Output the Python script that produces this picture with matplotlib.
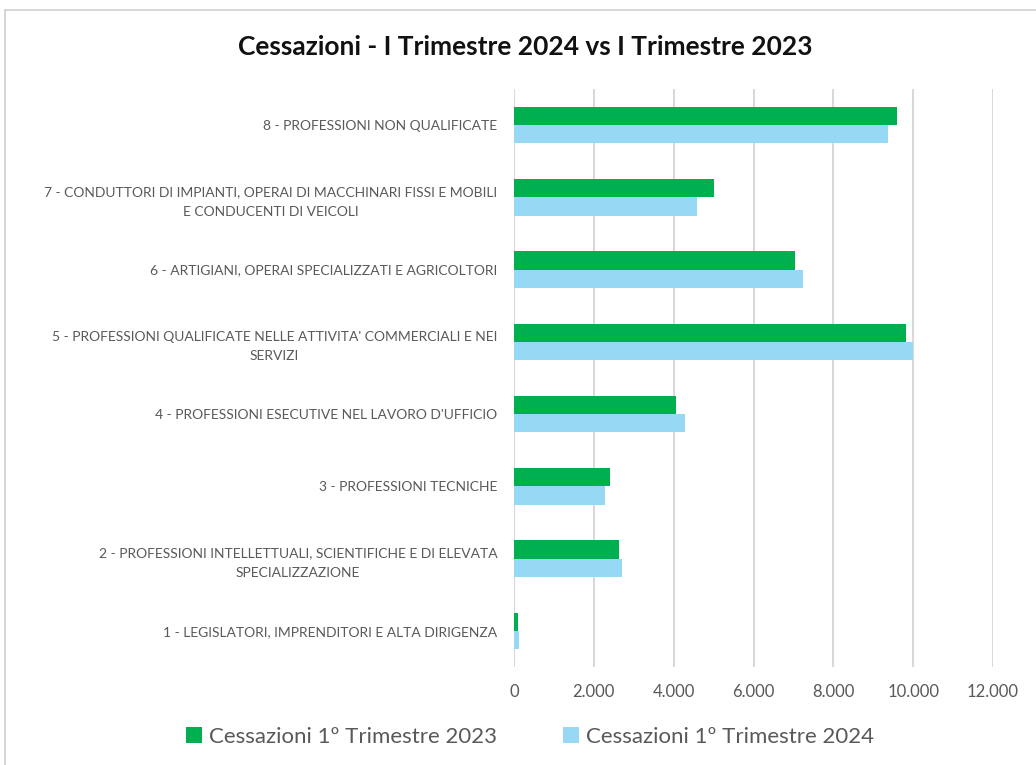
import matplotlib.pyplot as plt
import numpy as np
from matplotlib.patches import Rectangle
from matplotlib.ticker import FuncFormatter

categories = [
    "1 - LEGISLATORI, IMPRENDITORI E ALTA DIRIGENZA",
    "2 - PROFESSIONI INTELLETTUALI, SCIENTIFICHE E DI ELEVATA\nSPECIALIZZAZIONE",
    "3 - PROFESSIONI TECNICHE",
    "4 - PROFESSIONI ESECUTIVE NEL LAVORO D'UFFICIO",
    "5 - PROFESSIONI QUALIFICATE NELLE ATTIVITA' COMMERCIALI E NEI\nSERVIZI",
    "6 - ARTIGIANI, OPERAI SPECIALIZZATI E AGRICOLTORI",
    "7 - CONDUTTORI DI IMPIANTI, OPERAI DI MACCHINARI FISSI E MOBILI\nE CONDUCENTI DI VEICOLI",
    "8 - PROFESSIONI NON QUALIFICATE",
]
cess_2023 = [92, 2625, 2400, 4050, 9825, 7030, 5010, 9590]
cess_2024 = [125, 2710, 2290, 4275, 9990, 7240, 4575, 9370]
series_names = ["Cessazioni 1º Trimestre 2023", "Cessazioni 1º Trimestre 2024"]
x_ticks = [0, 2000, 4000, 6000, 8000, 10000, 12000]

GREEN = "#00B050"
BLUE = "#97D9F4"
GRAY = "#595959"
font = ["Lato", "DejaVu Sans"]

fig = plt.figure(figsize=(10.36, 7.65), dpi=100)
fig.patches.append(Rectangle((5 / 1036, -0.1), 1.2, 1 - 10 / 765 + 0.1,
                             transform=fig.transFigure, fill=False,
                             edgecolor="#D0D0D0", linewidth=1.2))

ax = fig.add_axes([514 / 1036, 1 - 667 / 765, (993 - 514) / 1036, (667 - 89) / 765])

y = np.arange(len(categories))
h = 0.253
ax.barh(y + h / 2, cess_2023, height=h, color=GREEN, label=series_names[0], zorder=3)
ax.barh(y - h / 2, cess_2024, height=h, color=BLUE, label=series_names[1], zorder=3)

ax.set_xlim(0, 12000)
ax.set_ylim(-0.5, len(categories) - 0.5)
ax.set_xticks(x_ticks)
ax.xaxis.set_major_formatter(FuncFormatter(lambda v, p: f"{int(v):,}".replace(",", ".")))
ax.grid(axis="x", color="#D9D9D9", linewidth=1.5, zorder=0)
for s in ax.spines.values():
    s.set_visible(False)
ax.tick_params(length=0)
ax.tick_params(axis="x", pad=12, labelsize=12, labelcolor=GRAY)
ax.set_yticks(y)
ax.set_yticklabels(categories, fontsize=10, color=GRAY, multialignment="center",
                   linespacing=1.75)
ax.tick_params(axis="y", pad=12)
for lbl in ax.get_xticklabels() + ax.get_yticklabels():
    lbl.set_family(font)

fig.text(525 / 1036, 1 - 47 / 765, "Cessazioni - I Trimestre 2024 vs I Trimestre 2023",
         ha="center", va="center", fontsize=19, fontweight="bold", color="#111111",
         family=font)

fig.legend(loc="center", bbox_to_anchor=(530 / 1036, 1 - 737 / 765), ncol=2,
           frameon=False, prop={"family": font, "size": 16},
           labelcolor=GRAY, handlelength=0.7, handleheight=0.7,
           handletextpad=0.3, columnspacing=3.0)

fig.savefig("out.png", dpi=100)
